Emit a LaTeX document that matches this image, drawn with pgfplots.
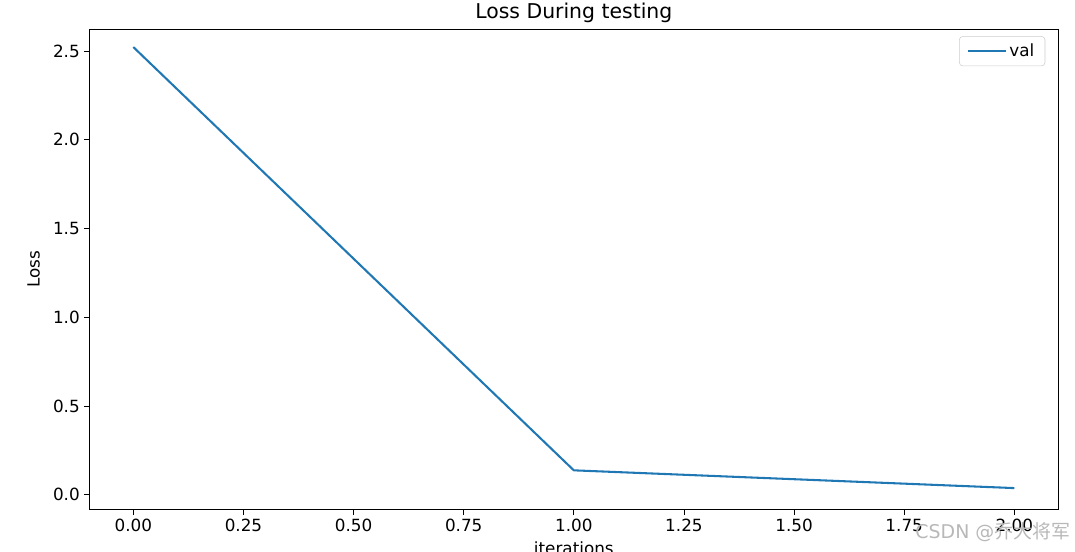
\documentclass[border=0pt]{standalone}
\usepackage{pgfplots}
\pgfplotsset{compat=1.18}
\usepackage{fontspec}
\setmainfont{DejaVu Sans}
\newfontfamily\cjk{Noto Sans CJK SC}
\definecolor{mplblue}{HTML}{1F77B4}
\begin{document}
\begin{tikzpicture}[x=1pt,y=1pt]
\path[use as bounding box] (-67,-31.5) rectangle (739.5,382.5);
\begin{axis}[
  at={(0,0)}, anchor=south west,
  scale only axis, width=727pt, height=360.75pt,
  xmin=-0.1, xmax=2.1, ymin=-0.0845, ymax=2.624,
  xtick={0,0.25,...,2.0},
  ytick={0,0.5,...,2.5},
  x tick label style={/pgf/number format/fixed,/pgf/number format/fixed zerofill,/pgf/number format/precision=2},
  y tick label style={/pgf/number format/fixed,/pgf/number format/fixed zerofill,/pgf/number format/precision=1},
  /pgf/number format/assume math mode=true,
  tick align=outside, tick pos=left,
  major tick length=3.65pt,
  tick style={black, line width=0.6pt},
  axis line style={line width=0.6pt},
  ticklabel style={font=\fontsize{12.6}{14}\selectfont},
  title={Loss During testing},
  title style={font=\fontsize{15.3}{17}\selectfont, yshift=-5pt},
  xlabel={iterations}, ylabel={Loss},
  label style={font=\fontsize{12.6}{14}\selectfont},
  ylabel style={yshift=3pt},
  legend style={font=\fontsize{12.6}{14}\selectfont, draw=black!20, rounded corners=2.5pt, at={(0.9865,0.985)}, anchor=north east, inner xsep=6pt, inner ysep=3.5pt},
  legend cell align=left,
  legend image code/.code={\draw[#1] (0pt,0pt) -- (28pt,0pt);},
]
\addplot[color=mplblue, line width=1.55pt, line join=round] coordinates {
  (0,2.522) (1,0.138) (2,0.038)
};
\addlegendentry{val}
\end{axis}
\node[anchor=base east, text=black!28, font=\fontsize{14.2}{16}\selectfont, inner sep=0pt] at (736,-21.5) {CSDN @{\cjk 乔大将军}};
\end{tikzpicture}
\end{document}
